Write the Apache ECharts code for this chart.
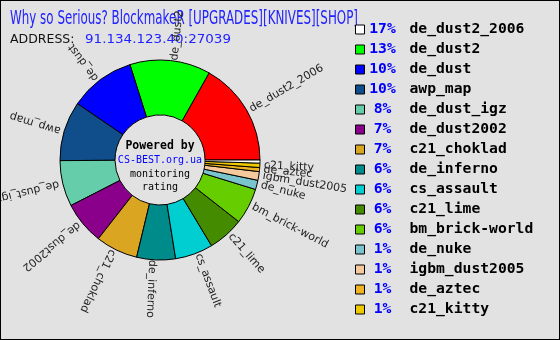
<!DOCTYPE html>
<html><head><meta charset="utf-8">
<script src="https://cdn.jsdelivr.net/npm/echarts@6/dist/echarts.min.js"></script>
<style>html,body{margin:0;padding:0;background:#e2e2e2}
#c{width:558px;height:338px;border:1px solid #000;}
</style></head><body><div id="c"></div>
<script>
const titleText = 'Why so Serious? BlockmakeR [UPGRADES][KNIVES][SHOP]';
const addressLabel = 'ADDRESS:';
const addressValue = '91.134.123.40:27039';
const centerLines = ['Powered by', 'CS-BEST.org.ua', 'monitoring', 'rating'];
const maps = ['de_dust2_2006','de_dust2','de_dust','awp_map','de_dust_igz','de_dust2002','c21_choklad','de_inferno','cs_assault','c21_lime','bm_brick-world','de_nuke','igbm_dust2005','de_aztec','c21_kitty','other'];
const shares = [16.8, 13.0, 10.6, 9.6, 7.4, 6.9, 6.8, 6.25, 6.1, 5.8, 5.8, 1.5, 1.4, 0.65, 0.7, 0.5];
const shownPercent = ['17%','13%','10%','10%','8%','7%','7%','6%','6%','6%','6%','1%','1%','1%','1%'];
const sliceColors = ['#ff0000','#00ff00','#0000ff','#104e8b','#66cdaa','#8b008b','#daa520','#008b8b','#00ced1','#458b00','#66cd00','#7ac5cd','#f5c99b','#eeb422','#eec900','#ffffff'];
const legendColors = ['#ffffff','#00ff00','#0000ff','#104e8b','#66cdaa','#8b008b','#daa520','#008b8b','#00ced1','#458b00','#66cd00','#7ac5cd','#f5c99b','#eeb422','#eec900'];

function measure(text, font) {
  const cv = document.createElement('canvas').getContext('2d');
  cv.font = font; return cv.measureText(text).width;
}
const titleFont = '19px "DejaVu Sans"';
const titleScale = 348 / measure(titleText, titleFont);
const addrFont = '12.5px "DejaVu Sans"';
const addrValScale = 146 / measure(addressValue, addrFont);

const total = shares.reduce((a, b) => a + b, 0);
let acc = 0;
const mids = shares.map(v => { const m = (acc + v / 2) / total * 360; acc += v; return m; });

const chart = echarts.init(document.getElementById('c'), null, {renderer: 'canvas'});
chart.setOption({
  backgroundColor: '#e2e2e2',
  animation: false,
  graphic: [
    {type: 'text', left: 9, top: 9, scaleX: titleScale, style: {text: titleText, font: titleFont, fill: '#2222ff'}},
    {type: 'text', x: 9, y: 39, style: {text: addressLabel, font: addrFont, fill: '#111', textVerticalAlign: 'middle'}},
    {type: 'text', x: 84, y: 39, scaleX: addrValScale, style: {text: addressValue, font: addrFont, fill: '#2222ff', textVerticalAlign: 'middle'}},
    {type: 'text', x: 159, y: 145, style: {text: centerLines[0], font: 'bold 11.5px "DejaVu Sans Mono"', fill: '#000', textAlign: 'center', textVerticalAlign: 'middle'}},
    {type: 'text', x: 159, y: 159, style: {text: centerLines[1], font: '10px "DejaVu Sans Mono"', fill: '#0000ff', textAlign: 'center', textVerticalAlign: 'middle'}},
    {type: 'text', x: 159, y: 173, style: {text: centerLines[2], font: '10px "DejaVu Sans Mono"', fill: '#000', textAlign: 'center', textVerticalAlign: 'middle'}},
    {type: 'text', x: 159, y: 186, style: {text: centerLines[3], font: '10px "DejaVu Sans Mono"', fill: '#000', textAlign: 'center', textVerticalAlign: 'middle'}}
  ],
  legend: {
    orient: 'vertical', left: 354, top: 21, padding: 0, itemWidth: 9, itemHeight: 9, itemGap: 5, icon: 'rect',
    selectedMode: false,
    data: maps.slice(0, 15).map((n, i) => ({name: n, itemStyle: {color: legendColors[i], borderColor: '#000', borderWidth: 1}})),
    formatter: name => '{p|' + shownPercent[maps.indexOf(name)] + '}{n|' + name + '}',
    textStyle: {
      rich: {
        p: {width: 26, align: 'right', color: '#0000ff', fontFamily: 'DejaVu Sans Mono', fontSize: 14.7, fontWeight: 'bold'},
        n: {color: '#000', fontFamily: 'DejaVu Sans Mono', fontSize: 14.7, fontWeight: 'bold', padding: [0, 0, 0, 14]}
      }
    }
  },
  series: [{
    type: 'pie',
    center: [159, 159],
    radius: [45, 100],
    startAngle: 0,
    clockwise: false,
    avoidLabelOverlap: false,
    minShowLabelAngle: 0,
    silent: true,
    itemStyle: {borderColor: '#000', borderWidth: 1},
    label: {position: 'outside', fontFamily: 'DejaVu Sans', fontSize: 11, color: '#222', distanceToLabelLine: 4},
    labelLine: {show: false, length: 0, length2: 0},
    labelLayout: () => ({align: 'left', verticalAlign: 'middle'}),
    emphasis: {disabled: true},
    data: maps.map((n, i) => ({
      name: n, value: shares[i],
      itemStyle: {color: sliceColors[i]},
      label: {rotate: mids[i], show: i < 15}
    }))
  }]
});
</script></body></html>
